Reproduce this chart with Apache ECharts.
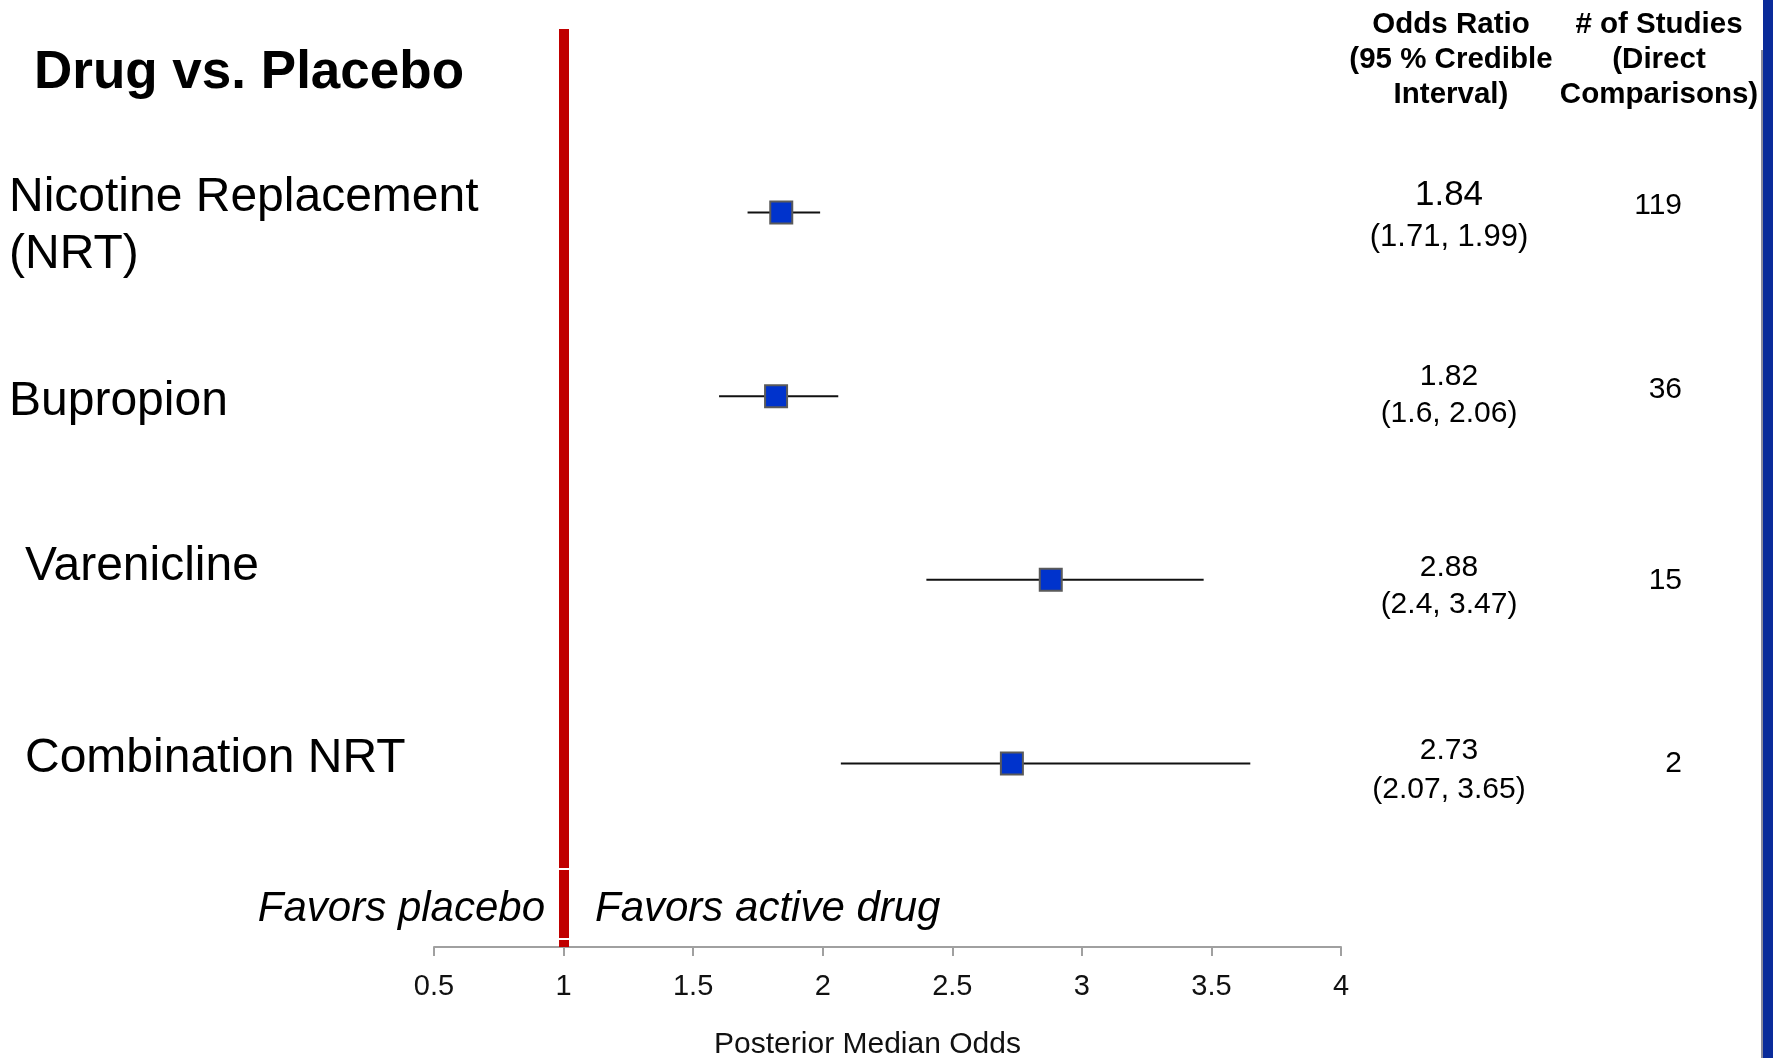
<!DOCTYPE html>
<html lang="en">
<head>
    <meta charset="UTF-8">
    <title>Drug vs. Placebo</title>
    <style>
        html,body{
            padding: 0;margin: 0;background: #fff;
        }
        #chart{
            width: 1773px;height: 1058px;
        }
    </style>
    <script src="https://cdn.jsdelivr.net/npm/echarts@6/dist/echarts.min.js"></script>
</head>
<body>
<div id="chart"></div>
<script>
    // drug comparisons, top to bottom
    var drugs = ['Nicotine Replacement\n(NRT)', 'Bupropion', 'Varenicline', 'Combination NRT'];
    var median = [1.84, 1.82, 2.88, 2.73];
    var ciLow = [1.71, 1.6, 2.4, 2.07];
    var ciHigh = [1.99, 2.06, 3.47, 3.65];
    var studies = [119, 36, 15, 2];
    var xTicks = [0.5, 1, 1.5, 2, 2.5, 3, 3.5, 4];

    var FONT = '"Liberation Sans", Arial, sans-serif';
    var myChart = echarts.init(document.getElementById('chart'));

    var pointData = median.map(function (m, i) { return [m, i]; });
    var ciData = median.map(function (m, i) { return [ciLow[i], ciHigh[i], i]; });

    var option = {
        animation: false,
        backgroundColor: '#fff',
        grid: {left: 434, right: 432, top: 29, bottom: 111, containLabel: false, outerBoundsMode: 'none'},
        xAxis: {
            type: 'value',
            min: xTicks[0],
            max: xTicks[xTicks.length - 1],
            interval: 0.5,
            splitLine: {show: false},
            axisLine: {onZero: false, lineStyle: {color: '#a0a0a0', width: 2}},
            axisTick: {length: 9, lineStyle: {color: '#a0a0a0', width: 2}},
            axisLabel: {
                margin: 25, fontSize: 29, color: '#111', fontFamily: FONT,
                formatter: function (v) { return String(v); }
            },
            name: 'Posterior Median Odds',
            nameLocation: 'middle',
            nameGap: 83,
            nameTextStyle: {fontSize: 30, color: '#111', fontFamily: FONT, padding: [0, 40, 0, 0]}
        },
        yAxis: {
            type: 'value', min: -1, max: 4, inverse: true, show: false
        },
        series: [
            {
                type: 'custom',
                name: 'ci',
                data: ciData,
                encode: {x: [0, 1], y: 2},
                z: 2,
                renderItem: function (params, api) {
                    var a = api.coord([api.value(0), api.value(2)]);
                    var b = api.coord([api.value(1), api.value(2)]);
                    return {
                        type: 'line',
                        shape: {x1: a[0], y1: a[1], x2: b[0], y2: b[1]},
                        style: {stroke: '#111', lineWidth: 2}
                    };
                }
            },
            {
                type: 'scatter',
                name: 'median',
                data: pointData,
                symbol: 'rect',
                symbolSize: 22,
                z: 3,
                itemStyle: {color: '#0033CC', borderColor: '#5a5a5a', borderWidth: 2, opacity: 1},
                markLine: {
                    silent: true,
                    symbol: 'none',
                    label: {show: false},
                    lineStyle: {color: '#C00000', width: 10, type: 'solid'},
                    data: [{xAxis: 1}]
                }
            }
        ]
    };
    myChart.setOption(option);

    // text panels: row labels, odds ratio column, study count column
    var g = [
        {type: 'text', x: 34, y: 73, style: {text: 'Drug vs. Placebo', font: 'bold 53px ' + FONT, fill: '#000', verticalAlign: 'middle'}, z: 10},
        {type: 'text', x: 1451, y: 60, style: {text: 'Odds Ratio\n(95 % Credible\nInterval)', font: 'bold 29.5px ' + FONT, fill: '#000', align: 'center', verticalAlign: 'middle', lineHeight: 35}, z: 10},
        {type: 'text', x: 1659, y: 60, style: {text: '# of Studies\n(Direct\nComparisons)', font: 'bold 29.5px ' + FONT, fill: '#000', align: 'center', verticalAlign: 'middle', lineHeight: 35}, z: 10},
        {type: 'text', x: 545, y: 909, style: {text: 'Favors placebo', font: 'italic 42px ' + FONT, fill: '#000', align: 'right', verticalAlign: 'middle'}, z: 10},
        {type: 'text', x: 595, y: 909, style: {text: 'Favors active drug', font: 'italic 42px ' + FONT, fill: '#000', align: 'left', verticalAlign: 'middle'}, z: 10},
        // small white breaks in the reference line
        {type: 'rect', shape: {x: 557, y: 868, width: 14, height: 2}, style: {fill: '#fff'}, z: 10},
        {type: 'rect', shape: {x: 557, y: 938, width: 14, height: 2}, style: {fill: '#fff'}, z: 10},
        // blue edge at the right
        {type: 'rect', shape: {x: 1763, y: 0, width: 10, height: 1058}, style: {fill: '#0A2B9A'}, z: 10},
        {type: 'rect', shape: {x: 1761, y: 50, width: 2, height: 1008}, style: {fill: '#8a8a9a'}, z: 10}
    ];

    var labelX = [9, 9, 25, 25];
    var labelDy = [14, 6, -13, -5];
    var valDy = [-17, -19.5, -12.5, -12.5];
    var ciDy = [24.5, 18, 24.5, 26];
    var nDy = [-7, -6, 1, 0];
    drugs.forEach(function (name, i) {
        var y = myChart.convertToPixel({yAxisIndex: 0}, i);
        g.push({
            type: 'text', x: labelX[i], y: y + labelDy[i],
            style: {text: name, font: '48px ' + FONT, fill: '#000', verticalAlign: 'middle', lineHeight: 57}, z: 10
        });
        g.push({
            type: 'text', x: 1449, y: y + valDy[i],
            style: {text: String(median[i]), font: (i === 0 ? 35 : 30) + 'px ' + FONT, fill: '#000', align: 'center', verticalAlign: 'middle'}, z: 10
        });
        g.push({
            type: 'text', x: 1449, y: y + ciDy[i],
            style: {text: '(' + ciLow[i] + ', ' + ciHigh[i] + ')', font: (i === 0 ? 31 : 30) + 'px ' + FONT, fill: '#000', align: 'center', verticalAlign: 'middle'}, z: 10
        });
        g.push({
            type: 'text', x: 1682, y: y + nDy[i],
            style: {text: String(studies[i]), font: '30px ' + FONT, fill: '#000', align: 'right', verticalAlign: 'middle'}, z: 10
        });
    });

    myChart.setOption({graphic: g});
</script>
</body>
</html>
